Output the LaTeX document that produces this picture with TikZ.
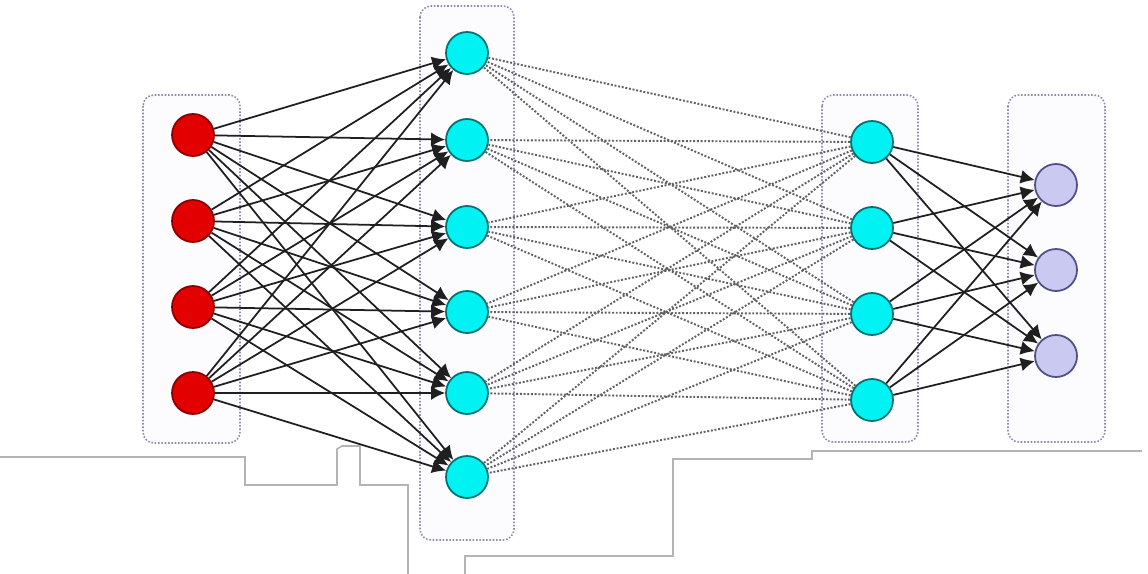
\documentclass[tikz,border=0pt]{standalone}
\usetikzlibrary{arrows.meta}
\definecolor{inred}{HTML}{E30000}
\definecolor{inredline}{HTML}{8A0000}
\definecolor{hidcyan}{HTML}{00F2F2}
\definecolor{hidline}{HTML}{007070}
\definecolor{outlav}{HTML}{C9C9F2}
\definecolor{outline}{HTML}{4F4F86}
\definecolor{boxline}{HTML}{8C8CAE}
\definecolor{cutgray}{HTML}{B4B4B4}
\tikzset{
	inp/.style={circle,draw=inredline,fill=inred,line width=1pt,minimum size=0.84cm,inner sep=0pt},
	hid/.style={circle,draw=hidline,fill=hidcyan,line width=1pt,minimum size=0.84cm,inner sep=0pt},
	outp/.style={circle,draw=outline,fill=outlav,line width=1pt,minimum size=0.84cm,inner sep=0pt},
	layerbox/.style={draw=boxline,fill=blue!1,densely dotted,line width=0.9pt,rounded corners=0.22cm},
	wsolid/.style={{Latex[length=2.8mm,width=2.8mm]}-,draw=black!88,line width=1pt},
	wdotted/.style={-,draw=black!62,densely dotted,line width=1.1pt},
	cutline/.style={draw=cutgray,line width=0.9pt}
}
\begin{document}
\begin{tikzpicture}[x=0.02cm,y=-0.02cm]
	\useasboundingbox (0,0) rectangle (1148,574);
	% layer frames
	\draw[layerbox] (143,95) rectangle (240,443);
	\draw[layerbox] (420,6) rectangle (514,540);
	\draw[layerbox] (822,95) rectangle (918,442);
	\draw[layerbox] (1008,95) rectangle (1105,442);
	% stray lines below the net
	\draw[cutline] (0,457) -- (245,457) -- (245,485) -- (337,485) -- (337,449) -- (342,446)
		-- (360,446) -- (360,485) -- (408,485) -- (408,574);
	\draw[cutline] (465,574) -- (465,556) -- (673,556) -- (673,459) -- (812,459) -- (812,451) -- (1142,451);
	% input layer
	\node[inp] (i1) at (193,135) {};
	\node[inp] (i2) at (193,221) {};
	\node[inp] (i3) at (193,307) {};
	\node[inp] (i4) at (193,393) {};
	% first hidden layer
	\node[hid] (h1) at (467,53) {}
		edge[wsolid] (i1) edge[wsolid] (i2) edge[wsolid] (i3) edge[wsolid] (i4);
	\node[hid] (h2) at (467,140) {}
		edge[wsolid] (i1) edge[wsolid] (i2) edge[wsolid] (i3) edge[wsolid] (i4);
	\node[hid] (h3) at (467,227) {}
		edge[wsolid] (i1) edge[wsolid] (i2) edge[wsolid] (i3) edge[wsolid] (i4);
	\node[hid] (h4) at (467,312) {}
		edge[wsolid] (i1) edge[wsolid] (i2) edge[wsolid] (i3) edge[wsolid] (i4);
	\node[hid] (h5) at (467,393) {}
		edge[wsolid] (i1) edge[wsolid] (i2) edge[wsolid] (i3) edge[wsolid] (i4);
	\node[hid] (h6) at (467,477) {}
		edge[wsolid] (i1) edge[wsolid] (i2) edge[wsolid] (i3) edge[wsolid] (i4);
	% second hidden layer
	\node[hid] (g1) at (872,142) {}
		edge[wdotted] (h1) edge[wdotted] (h2) edge[wdotted] (h3)
		edge[wdotted] (h4) edge[wdotted] (h5) edge[wdotted] (h6);
	\node[hid] (g2) at (872,228) {}
		edge[wdotted] (h1) edge[wdotted] (h2) edge[wdotted] (h3)
		edge[wdotted] (h4) edge[wdotted] (h5) edge[wdotted] (h6);
	\node[hid] (g3) at (872,314) {}
		edge[wdotted] (h1) edge[wdotted] (h2) edge[wdotted] (h3)
		edge[wdotted] (h4) edge[wdotted] (h5) edge[wdotted] (h6);
	\node[hid] (g4) at (872,400) {}
		edge[wdotted] (h1) edge[wdotted] (h2) edge[wdotted] (h3)
		edge[wdotted] (h4) edge[wdotted] (h5) edge[wdotted] (h6);
	% output layer
	\node[outp] (o1) at (1056,185) {}
		edge[wsolid] (g1) edge[wsolid] (g2) edge[wsolid] (g3) edge[wsolid] (g4);
	\node[outp] (o2) at (1056,270) {}
		edge[wsolid] (g1) edge[wsolid] (g2) edge[wsolid] (g3) edge[wsolid] (g4);
	\node[outp] (o3) at (1056,356) {}
		edge[wsolid] (g1) edge[wsolid] (g2) edge[wsolid] (g3) edge[wsolid] (g4);
\end{tikzpicture}
\end{document}
